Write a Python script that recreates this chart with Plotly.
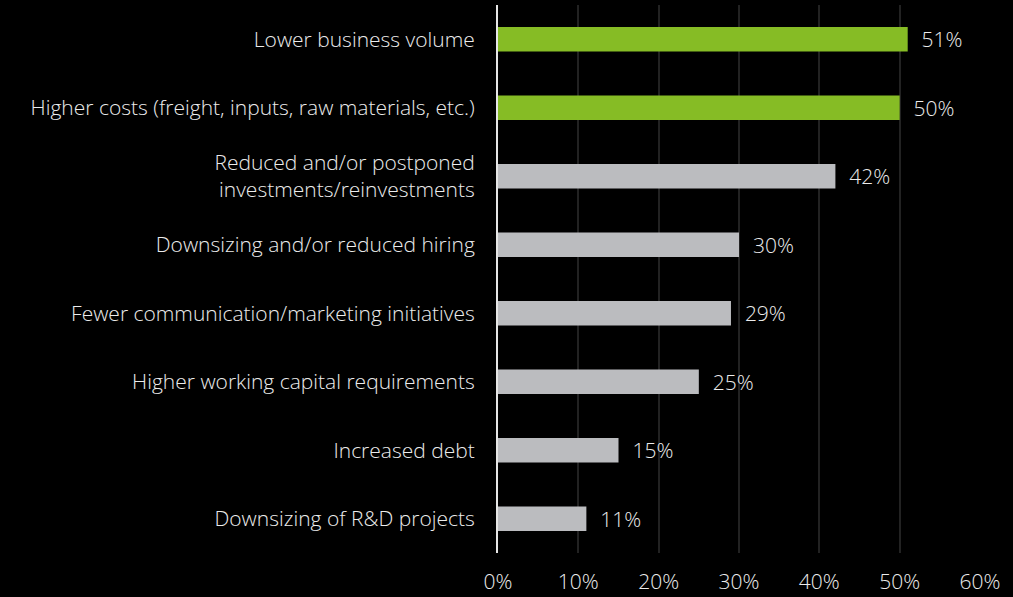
import plotly.graph_objects as go

categories = [
    "Lower business volume",
    "Higher costs (freight, inputs, raw materials, etc.)",
    "Reduced and/or postponed<br>investments/reinvestments",
    "Downsizing and/or reduced hiring",
    "Fewer communication/marketing initiatives",
    "Higher working capital requirements",
    "Increased debt",
    "Downsizing of R&D projects",
]
values = [51, 50, 42, 30, 29, 25, 15, 11]
highlight = [True, True, False, False, False, False, False, False]
x_ticks = [0, 10, 20, 30, 40, 50, 60]
x_tick_labels = ["0%", "10%", "20%", "30%", "40%", "50%", "60%"]

GREEN = "#86bc25"
GREY = "#bbbcbf"
TEXT = "#ececec"
FONT = "Open Sans"
SIZE = 21

colors = [GREEN if h else GREY for h in highlight]
label_font = dict(color=TEXT, size=SIZE, family=FONT, weight=300)

fig = go.Figure(
    go.Bar(
        x=values,
        y=categories,
        orientation="h",
        marker=dict(color=colors, line=dict(width=0)),
        text=[f"\u00a0\u00a0{v}%" for v in values],
        textposition="outside",
        constraintext="none",
        textfont=label_font,
        cliponaxis=False,
    )
)

fig.update_layout(
    width=1013,
    height=597,
    paper_bgcolor="#000000",
    plot_bgcolor="#000000",
    margin=dict(l=498, r=33, t=5, b=44),
    bargap=0.64,
    showlegend=False,
    font=label_font,
)

fig.update_xaxes(
    range=[0, 60],
    tickvals=x_ticks,
    ticktext=x_tick_labels,
    showgrid=True,
    gridcolor="#222222",
    gridwidth=1.5,
    zeroline=False,
    showline=False,
    tickfont=label_font,
    ticklabelstandoff=14,
    automargin=False,
)

fig.update_yaxes(
    autorange="reversed",
    showgrid=False,
    showline=True,
    linecolor="#e6e6e6",
    linewidth=2,
    ticks="",
    tickfont=label_font,
    ticklabelstandoff=17,
)

fig.write_html("out.html")
